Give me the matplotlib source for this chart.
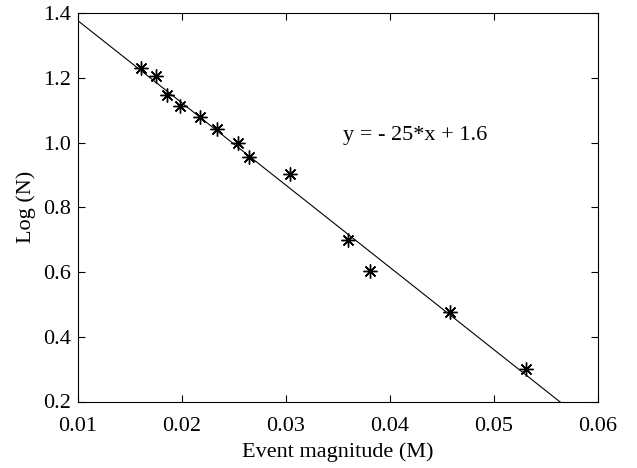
import matplotlib
matplotlib.use("Agg")
import matplotlib.pyplot as plt
import numpy as np

magnitude = [0.0161, 0.0175, 0.0186, 0.0198, 0.0217, 0.0234, 0.0254, 0.0264, 0.0304,
             0.0360, 0.0381, 0.0458, 0.0531]
log_n = [1.230, 1.204, 1.146, 1.114, 1.079, 1.041, 1.000, 0.954, 0.903,
         0.699, 0.602, 0.477, 0.301]
fit_slope = -25.4
fit_intercept = 1.630
fit_label = "y = - 25*x + 1.6"
x_ticks = [0.01, 0.02, 0.03, 0.04, 0.05, 0.06]
y_ticks = [0.2, 0.4, 0.6, 0.8, 1.0, 1.2, 1.4]

plt.rcParams['font.family'] = ['Liberation Serif', 'DejaVu Serif']
plt.rcParams['font.size'] = 16

fig = plt.figure(figsize=(6.37, 4.68), dpi=100)
ax = fig.add_axes([78/637, 1-401.5/468, (598-78)/637, (401.5-13)/468])

xl = np.array([0.01, 0.06])
ax.plot(xl, fit_slope*xl + fit_intercept, color='black', lw=0.8)
ax.plot(magnitude, log_n, linestyle='none', marker=(8, 2, 0), markersize=10,
        color='black', markeredgewidth=1.0)
ax.text(0.0424, 1.022, fit_label, ha='center', va='center', fontsize=16)

ax.set_xlim(0.01, 0.06)
ax.set_ylim(0.2, 1.4)
ax.set_xticks(x_ticks)
ax.set_xticklabels([f"{v:.2f}" for v in x_ticks])
ax.set_yticks(y_ticks)
ax.set_yticklabels([f"{v:.1f}" for v in y_ticks])
ax.tick_params(direction='in', top=True, right=True, length=5, width=0.8)
ax.tick_params(axis='x', pad=11.5)
ax.tick_params(axis='y', pad=5)
for s in ax.spines.values():
    s.set_linewidth(0.8)
ax.set_xlabel("Event magnitude (M)", labelpad=4.5)
ax.set_ylabel("Log (N)", labelpad=5.5)

fig.savefig("out.png", dpi=100)
